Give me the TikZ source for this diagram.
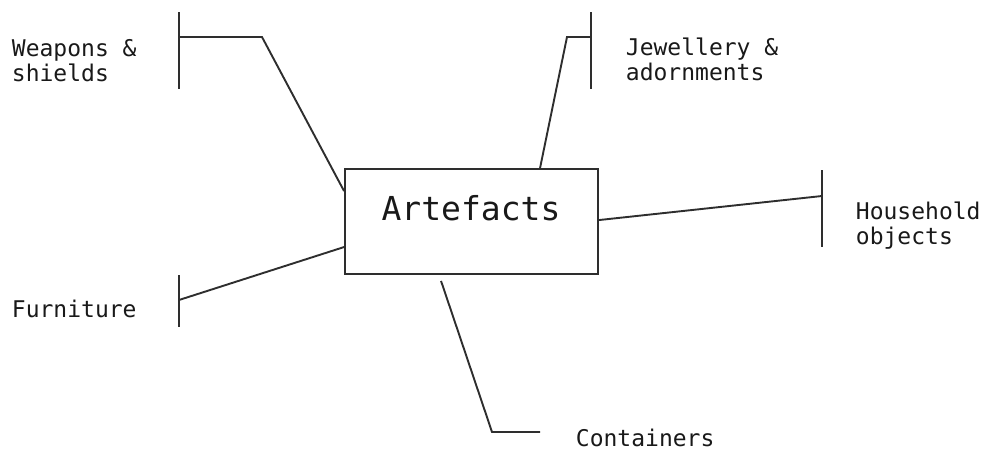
\documentclass[tikz,border=0pt]{standalone}
\usepackage{fontspec}
\newfontfamily\monof{DejaVu Sans Mono}
\begin{document}
\begin{tikzpicture}[x=1pt,y=-1pt,
  line width=1.9pt,
  conn/.style={draw=black!82, line join=miter},
  barline/.style={draw=black!82},
  lbl/.style={font=\monof\fontsize{23}{25}\selectfont, text=black!90, inner sep=0pt, align=left},
  mainbox/.style={draw=black!82, minimum width=253pt, minimum height=105pt, inner sep=0pt}]
\useasboundingbox (0,0) rectangle (988,453);
% central box
\node[mainbox] (art) at (471.5,221.5) {};
\node[font=\monof\fontsize{33}{36}\selectfont, text=black!90, inner sep=0pt, anchor=base] (arttext) at (471,220) {Artefacts};
% labels
\node[lbl, anchor=north west] (weap) at (11,38) {Weapons \&\\shields};
\node[lbl, anchor=north west] (jew) at (625,37) {Jewellery \&\\adornments};
\node[lbl, anchor=north west] (house) at (855,201) {Household\\objects};
\node[lbl, anchor=base west] (furn) at (11,317) {Furniture};
\node[lbl, anchor=base west] (cont) at (575,446) {Containers};
% bars
\coordinate (wt) at (179,12); \coordinate (wb) at (179,89); \coordinate (wm) at (179,37);
\coordinate (jt) at (591,12); \coordinate (jb) at (591,89); \coordinate (jm) at (591,37);
\coordinate (ht) at (822,170); \coordinate (hb) at (822,247); \coordinate (hm) at (822,196);
\coordinate (ft) at (179,275); \coordinate (fb) at (179,327); \coordinate (fm) at (179,300);
\coordinate (ce) at (540,432);
\draw[barline] (wt) -- (wb);
\draw[barline] (jt) -- (jb);
\draw[barline] (ht) -- (hb);
\draw[barline] (ft) -- (fb);
% connectors
\draw[conn] ([yshift=-23pt]art.north west) -- (262,37) -- (wm);
\draw[conn] ([xshift=196pt]art.north west) -- (567,37) -- (jm);
\draw[conn] ([yshift=-52pt]art.north east) -- (hm);
\draw[conn] ([yshift=-79pt]art.north west) -- (fm);
\draw[conn] ([xshift=97pt,yshift=-6pt]art.south west) -- (492,432) -- (ce);
\end{tikzpicture}
\end{document}
